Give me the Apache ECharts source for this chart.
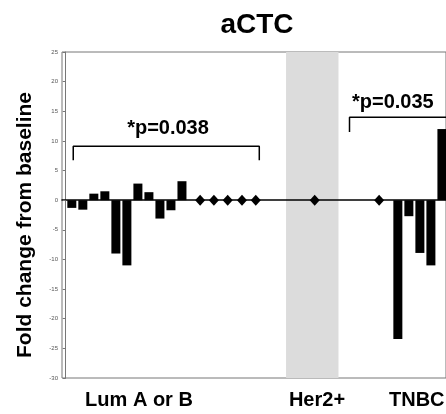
<!doctype html>
<html>
<head>
<meta charset="UTF-8">
<title>aCTC</title>
<script src="https://cdn.jsdelivr.net/npm/echarts@6/dist/echarts.min.js"></script>
<style>
  html, body { margin: 0; padding: 0; background: #fff; }
  #main { width: 446px; height: 414px; }
</style>
</head>
<body>
<div id="main"></div>
<script>
// fold change per patient, x = sample slot on the plot
var lumBarPos = [1, 2, 3, 4, 5, 6, 7, 8, 9, 10, 11];
var lumBars = [-1.3, -1.6, 1.1, 1.5, -9.0, -11.0, 2.8, 1.35, -3.1, -1.7, 3.2];
var lumZeroPos = [12.2, 13.45, 14.7, 16.0, 17.25];
var her2ZeroPos = [22.6];
var tnbcZeroPos = [28.45];
var tnbcBarPos = [29.7, 30.7, 31.7, 32.7, 33.7];
var tnbcBars = [-23.4, -2.7, -8.9, -11.0, 12.0];
var her2Band = [20.0, 24.76];
// significance brackets: [x start, x end, top, tip]
var lumBracket = [0.68, 17.57, 9.1, 6.75];
var tnbcBracket = [25.76, 36, 14.0, 11.5];

function pairs(xs, ys) {
  return xs.map(function (x, i) { return [x, ys[i]]; });
}
function zeros(xs) {
  return xs.map(function (x) { return [x, 0]; });
}
function bracket(b) {
  return [[b[0], b[3]], [b[0], b[2]], [b[1], b[2]], [b[1], b[3]]];
}

var myChart = echarts.init(document.getElementById('main'));
var bold = 'Liberation Sans, Arial, sans-serif';
var option = {
  animation: false,
  grid: { left: 62, right: -2, top: 52, bottom: 36, show: true, borderColor: '#777', borderWidth: 1 },
  xAxis: {
    type: 'value', min: -0.34, max: 34.52, z: 3,
    axisLine: { onZero: true, lineStyle: { color: '#000', width: 1.5 } },
    axisTick: { show: false }, axisLabel: { show: false }, splitLine: { show: false }
  },
  yAxis: {
    type: 'value', min: -30, max: 25, interval: 5, z: 3,
    axisLine: { show: true, lineStyle: { color: '#777' } },
    axisTick: { show: true, length: 3, lineStyle: { color: '#777' } },
    axisLabel: { fontSize: 6, color: '#555', margin: 4, fontFamily: bold },
    splitLine: { show: false }
  },
  series: [
    {
      type: 'line', data: [], silent: true, z: 0,
      markArea: { silent: true, z: 0, itemStyle: { color: '#dcdcdc' }, data: [[{ xAxis: her2Band[0] }, { xAxis: her2Band[1] }]] }
    },
    { type: 'bar', z: 4, data: pairs(lumBarPos, lumBars), barWidth: 9, itemStyle: { color: '#000' } },
    { type: 'bar', z: 4, data: pairs(tnbcBarPos, tnbcBars), barWidth: 9, itemStyle: { color: '#000' } },
    {
      type: 'scatter', z: 5, symbol: 'diamond', symbolSize: [10, 11], itemStyle: { color: '#000', opacity: 1 },
      data: zeros(lumZeroPos.concat(her2ZeroPos, tnbcZeroPos))
    },
    { type: 'line', z: 4, data: bracket(lumBracket), showSymbol: false, lineStyle: { color: '#000', width: 1.5 } },
    { type: 'line', z: 4, data: bracket(tnbcBracket), showSymbol: false, lineStyle: { color: '#000', width: 1.5 } }
  ],
  graphic: [
    { type: 'text', x: 257, y: 25, style: { text: 'aCTC', font: 'bold 28px ' + bold, fill: '#000', align: 'center', verticalAlign: 'middle' } },
    { type: 'text', x: 25, y: 225, rotation: Math.PI / 2, style: { text: 'Fold change from baseline', font: 'bold 21px ' + bold, fill: '#000', align: 'center', verticalAlign: 'middle' } },
    { type: 'text', x: 168, y: 128, style: { text: '*p=0.038', font: 'bold 20px ' + bold, fill: '#000', align: 'center', verticalAlign: 'middle' } },
    { type: 'text', x: 352, y: 102, style: { text: '*p=0.035', font: 'bold 20px ' + bold, fill: '#000', align: 'left', verticalAlign: 'middle' } },
    { type: 'text', x: 139, y: 400, style: { text: 'Lum A or B', font: 'bold 20px ' + bold, fill: '#000', align: 'center', verticalAlign: 'middle' } },
    { type: 'text', x: 317, y: 400, style: { text: 'Her2+', font: 'bold 20px ' + bold, fill: '#000', align: 'center', verticalAlign: 'middle' } },
    { type: 'text', x: 389, y: 400, style: { text: 'TNBC', font: 'bold 20px ' + bold, fill: '#000', align: 'left', verticalAlign: 'middle' } }
  ]
};
myChart.setOption(option);
window.onresize = function () {
  myChart.resize();
};
</script>
</body>
</html>
